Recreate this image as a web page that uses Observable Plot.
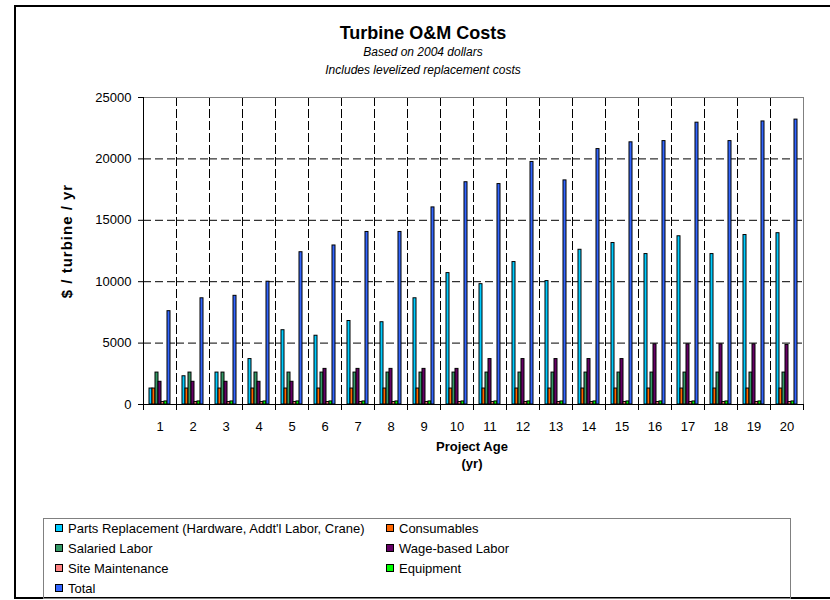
<!DOCTYPE html>
<html>
<head>
<meta charset="utf-8">
<script src="https://cdn.jsdelivr.net/npm/d3@7"></script>
<script src="https://cdn.jsdelivr.net/npm/@observablehq/plot@0.6"></script>
<style>
  body { margin: 0; background: #fff; }
  #wrap { position: relative; width: 830px; height: 600px; overflow: hidden; font-family: "Liberation Sans", Arial, sans-serif; }
  #border { position: absolute; left: 14px; top: 5px; width: 900px; height: 590px; border-left: 2px solid #000; border-top: 2px solid #000; border-bottom: 2px solid #000; }
  #chart { position: absolute; left: 0; top: 0; }
  #overlay { position: absolute; left: 0; top: 0; pointer-events: none; }
</style>
</head>
<body>
<div id="wrap">
  <div id="border"></div>
  <div id="chart"></div>
  <svg id="overlay" width="830" height="600"></svg>
</div>
<script>
// ---- Data ----
const ages = [1, 2, 3, 4, 5, 6, 7, 8, 9, 10, 11, 12, 13, 14, 15, 16, 17, 18, 19, 20];
const seriesNames = [
  "Parts Replacement (Hardware, Addt'l Labor, Crane)",
  "Consumables",
  "Salaried Labor",
  "Wage-based Labor",
  "Site Maintenance",
  "Equipment",
  "Total"
];
const seriesColors = ["#00CCFF", "#FF6600", "#339966", "#660066", "#FF8080", "#00FF00", "#3366FF"];

const parts       = [1300, 2300, 2600, 3700, 6050, 5600, 6800, 6700, 8650, 10700, 9800, 11600, 10050, 12600, 13150, 12250, 13700, 12250, 13800, 13950];
const consumables = [1300, 1300, 1300, 1300, 1300, 1300, 1300, 1300, 1300, 1300, 1300, 1300, 1300, 1300, 1300, 1300, 1300, 1300, 1300, 1300];
const salaried    = [2600, 2600, 2600, 2600, 2600, 2600, 2600, 2600, 2600, 2600, 2600, 2600, 2600, 2600, 2600, 2600, 2600, 2600, 2600, 2600];
const wage        = [1850, 1850, 1850, 1850, 1850, 2900, 2900, 2900, 2900, 2900, 3700, 3700, 3700, 3700, 3700, 4900, 4900, 4900, 4900, 4850];
const siteMaint   = [200, 200, 200, 200, 200, 200, 200, 200, 200, 200, 200, 200, 200, 200, 200, 200, 200, 200, 200, 200];
const equipment   = [250, 250, 250, 250, 250, 250, 250, 250, 250, 250, 250, 250, 250, 250, 250, 250, 250, 250, 250, 250];
const total       = [7600, 8650, 8850, 10000, 12400, 12950, 14050, 14050, 16050, 18100, 17950, 19750, 18250, 20800, 21350, 21450, 22950, 21450, 23050, 23200];

const yTicks = [0, 5000, 10000, 15000, 20000, 25000];
const yGrid = [5000, 10000, 15000, 20000, 25000];

const seriesValues = [parts, consumables, salaried, wage, siteMaint, equipment, total];
const table = ages.flatMap((age, i) => seriesNames.map((s, j) => ({age, series: s, value: seriesValues[j][i]})));

// ---- Chart ----
const plotH = 307;
const chart = Plot.plot({
  width: 830,
  height: 480,
  marginLeft: 135,
  marginRight: 20,
  marginTop: 97,
  marginBottom: 76,
  style: {fontFamily: "'Liberation Sans', Arial, sans-serif", fontSize: "13px", color: "#000", background: "transparent", overflow: "visible"},
  fx: {domain: ages, padding: 0, label: null, tickSize: 0, tickPadding: 17, axis: "bottom"},
  x: {domain: seriesNames, paddingInner: 0, paddingOuter: 0.65, axis: null},
  y: {domain: [0, 25000], ticks: yTicks, tickSize: 5, tickPadding: 7, tickFormat: d3.format("d"), label: null},
  color: {domain: seriesNames, range: seriesColors},
  marks: [
    Plot.ruleY(yGrid, {stroke: "#000", strokeDasharray: "8,4", strokeWidth: 1}),
    Plot.frame({anchor: "left", stroke: "#000", strokeDasharray: "8,4", strokeWidth: 1}),
    Plot.frame({anchor: "top", stroke: "#808080", strokeWidth: 1}),
    Plot.frame({anchor: "right", stroke: "#808080", strokeWidth: 1, facetAnchor: "right"}),
    Plot.barY(table, {fx: "age", x: "series", y: "value", fill: "series", stroke: "#000", strokeWidth: 1}),
    Plot.ruleY([0], {stroke: "#000", strokeWidth: 1}),
    Plot.frame({anchor: "left", stroke: "#000", strokeWidth: 1, facetAnchor: "left"}),
    Plot.frame({anchor: "left", stroke: "#000", strokeWidth: 1, insetTop: plotH, insetBottom: -5}),
    Plot.frame({anchor: "right", stroke: "#000", strokeWidth: 1, insetTop: plotH, insetBottom: -5, facetAnchor: "right"})
  ]
});
document.getElementById("chart").append(chart);

// ---- Titles & legend ----
const ov = d3.select("#overlay");
const ff = "'Liberation Sans', Arial, sans-serif";
function txt(x, y, s, size, weight, style, anchor) {
  return ov.append("text").attr("x", x).attr("y", y).text(s)
    .attr("font-family", ff).attr("font-size", size).attr("font-weight", weight || "normal")
    .attr("font-style", style || "normal").attr("text-anchor", anchor || "middle").attr("fill", "#000");
}
txt(423, 39, "Turbine O&M Costs", 18, "bold");
txt(423, 56, "Based on 2004 dollars", 12, "normal", "italic");
txt(423, 74, "Includes levelized replacement costs", 12, "normal", "italic");
txt(0, 0, "$ / turbine / yr", 15, "bold").attr("letter-spacing", 1).attr("transform", "translate(72,241) rotate(-90)");
txt(472, 451, "Project Age", 13, "bold");
txt(472, 468, "(yr)", 13, "bold");

ov.append("rect").attr("x", 43.5).attr("y", 518.5).attr("width", 747).attr("height", 80)
  .attr("fill", "none").attr("stroke", "#808080").attr("stroke-width", 1);

const colX = [55, 386];
const rowY = [528, 548, 568, 588];
seriesNames.forEach((name, i) => {
  const cx = colX[i % 2], cy = rowY[Math.floor(i / 2)];
  ov.append("rect").attr("x", cx + 0.5).attr("y", cy - 3.5).attr("width", 7).attr("height", 7)
    .attr("fill", seriesColors[i]).attr("stroke", "#000").attr("stroke-width", 1);
  txt(cx + 13, cy + 4.7, name, 13, "normal", "normal", "start");
});
</script>
</body>
</html>
